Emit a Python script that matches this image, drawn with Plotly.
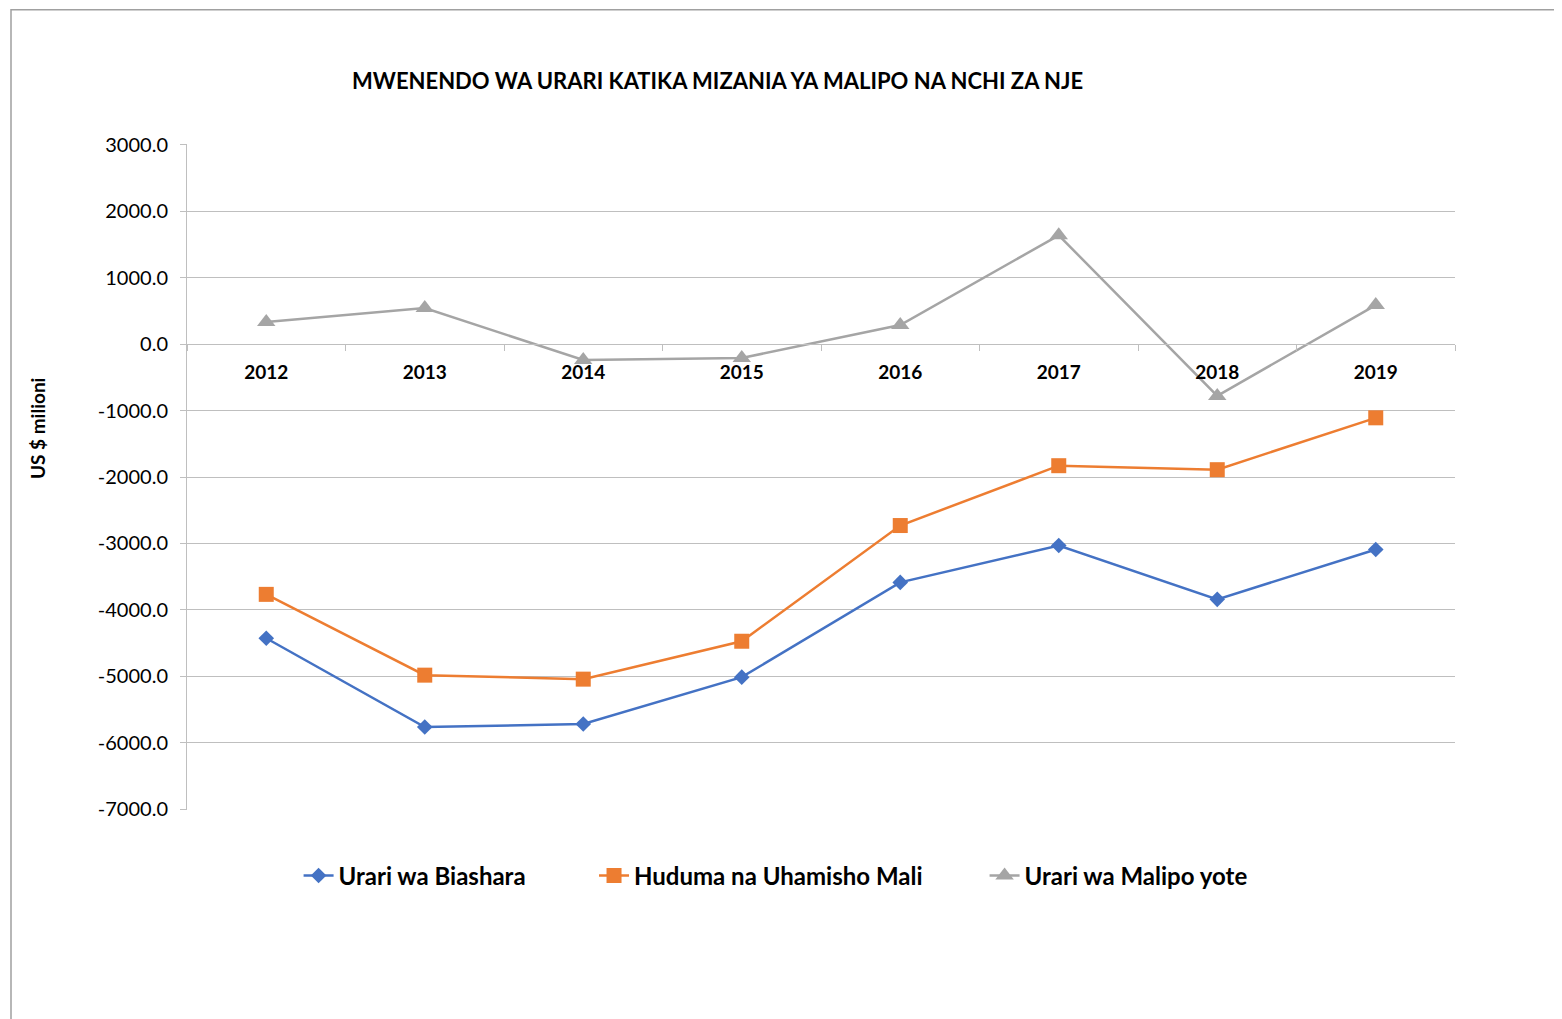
import plotly.graph_objects as go

# ── 데이터 ──────────────────────────────────────────────
years = ["2012", "2013", "2014", "2015", "2016", "2017", "2018", "2019"]
biashara = [-4425, -5760, -5715, -5010, -3585, -3030, -3840, -3090]
huduma = [-3765, -4980, -5040, -4470, -2730, -1830, -1890, -1110]
malipo = [330, 540, -240, -210, 285, 1635, -780, 585]

y_ticks = [3000, 2000, 1000, 0, -1000, -2000, -3000, -4000, -5000, -6000, -7000]
y_ticktext = ["3000.0", "2000.0", "1000.0", "0.0", "-1000.0", "-2000.0", "-3000.0",
              "-4000.0", "-5000.0", "-6000.0", "-7000.0"]

y_min, y_max = -7000, 3000
FONT = "Lato"

fig = go.Figure()

# (이름, 값, 색, 마커, 크기, 범례, 범례 x 위치)
series = [
    ("Urari wa Biashara", biashara, "#4472C4", "diamond", 12, "legend", 0.088),
    ("Huduma na Uhamisho Mali", huduma, "#ED7D31", "square", 15, "legend2", 0.321),
    ("Urari wa Malipo yote", malipo, "#A5A5A5", "triangle-up", 16, "legend3", 0.629),
]
legends = {}
for name, vals, color, sym, size, leg, lx in series:
    fig.add_trace(go.Scatter(
        x=years, y=vals, name=name, mode="lines+markers",
        line=dict(color=color, width=2.5),
        marker=dict(symbol=sym, size=size, color=color),
        legend=leg,
    ))
    legends[leg] = dict(
        orientation="h", xanchor="left", x=lx, yanchor="middle", y=-0.099,
        font=dict(size=24, family=FONT, weight="bold"),
        itemwidth=30, bgcolor="rgba(0,0,0,0)",
    )

# x축을 y=0 위치에 배치
zero_pos = (0 - y_min) / (y_max - y_min)

fig.update_layout(
    width=1562, height=1019,
    paper_bgcolor="white", plot_bgcolor="white",
    margin=dict(l=179, r=115, t=136, b=217),
    font=dict(family=FONT, color="black"),
    showlegend=True,
    xaxis=dict(
        type="category", anchor="free", position=zero_pos,
        range=[-0.5, len(years) - 0.5],
        showline=True, linecolor="#BFBFBF", linewidth=1,
        ticks="outside", tickson="boundaries", ticklen=6, tickcolor="#BFBFBF",
        showgrid=False, tickfont=dict(size=19, family=FONT, weight="bold"),
        ticklabelstandoff=11,
    ),
    yaxis=dict(
        range=[y_min - 8, y_max + 8], tickvals=y_ticks, ticktext=y_ticktext,
        showline=True, linecolor="#BFBFBF", linewidth=1,
        ticks="outside", ticklen=6, tickcolor="#BFBFBF",
        showgrid=True, gridcolor="#BFBFBF", gridwidth=1,
        zeroline=False, tickfont=dict(size=20, family=FONT),
        ticklabelstandoff=8,
    ),
    annotations=[
        dict(text="<b>MWENENDO WA URARI KATIKA MIZANIA YA MALIPO NA NCHI ZA NJE</b>",
             xref="paper", yref="paper", x=0.418, y=1.096, xanchor="center",
             yanchor="middle", showarrow=False, font=dict(size=22, family=FONT)),
        dict(text="<b>US $ milioni</b>", textangle=-90,
             xref="paper", yref="paper", x=-0.118, y=0.574,
             xanchor="center", yanchor="middle", showarrow=False,
             font=dict(size=19, family=FONT)),
    ],
    shapes=[
        dict(type="rect", xref="paper", yref="paper",
             x0=-0.1388, x1=1.2, y0=-0.5, y1=1.2015,
             line=dict(color="#A0A0A0", width=1.5), layer="below"),
    ],
    **legends,
)

fig.write_html("out.html")
